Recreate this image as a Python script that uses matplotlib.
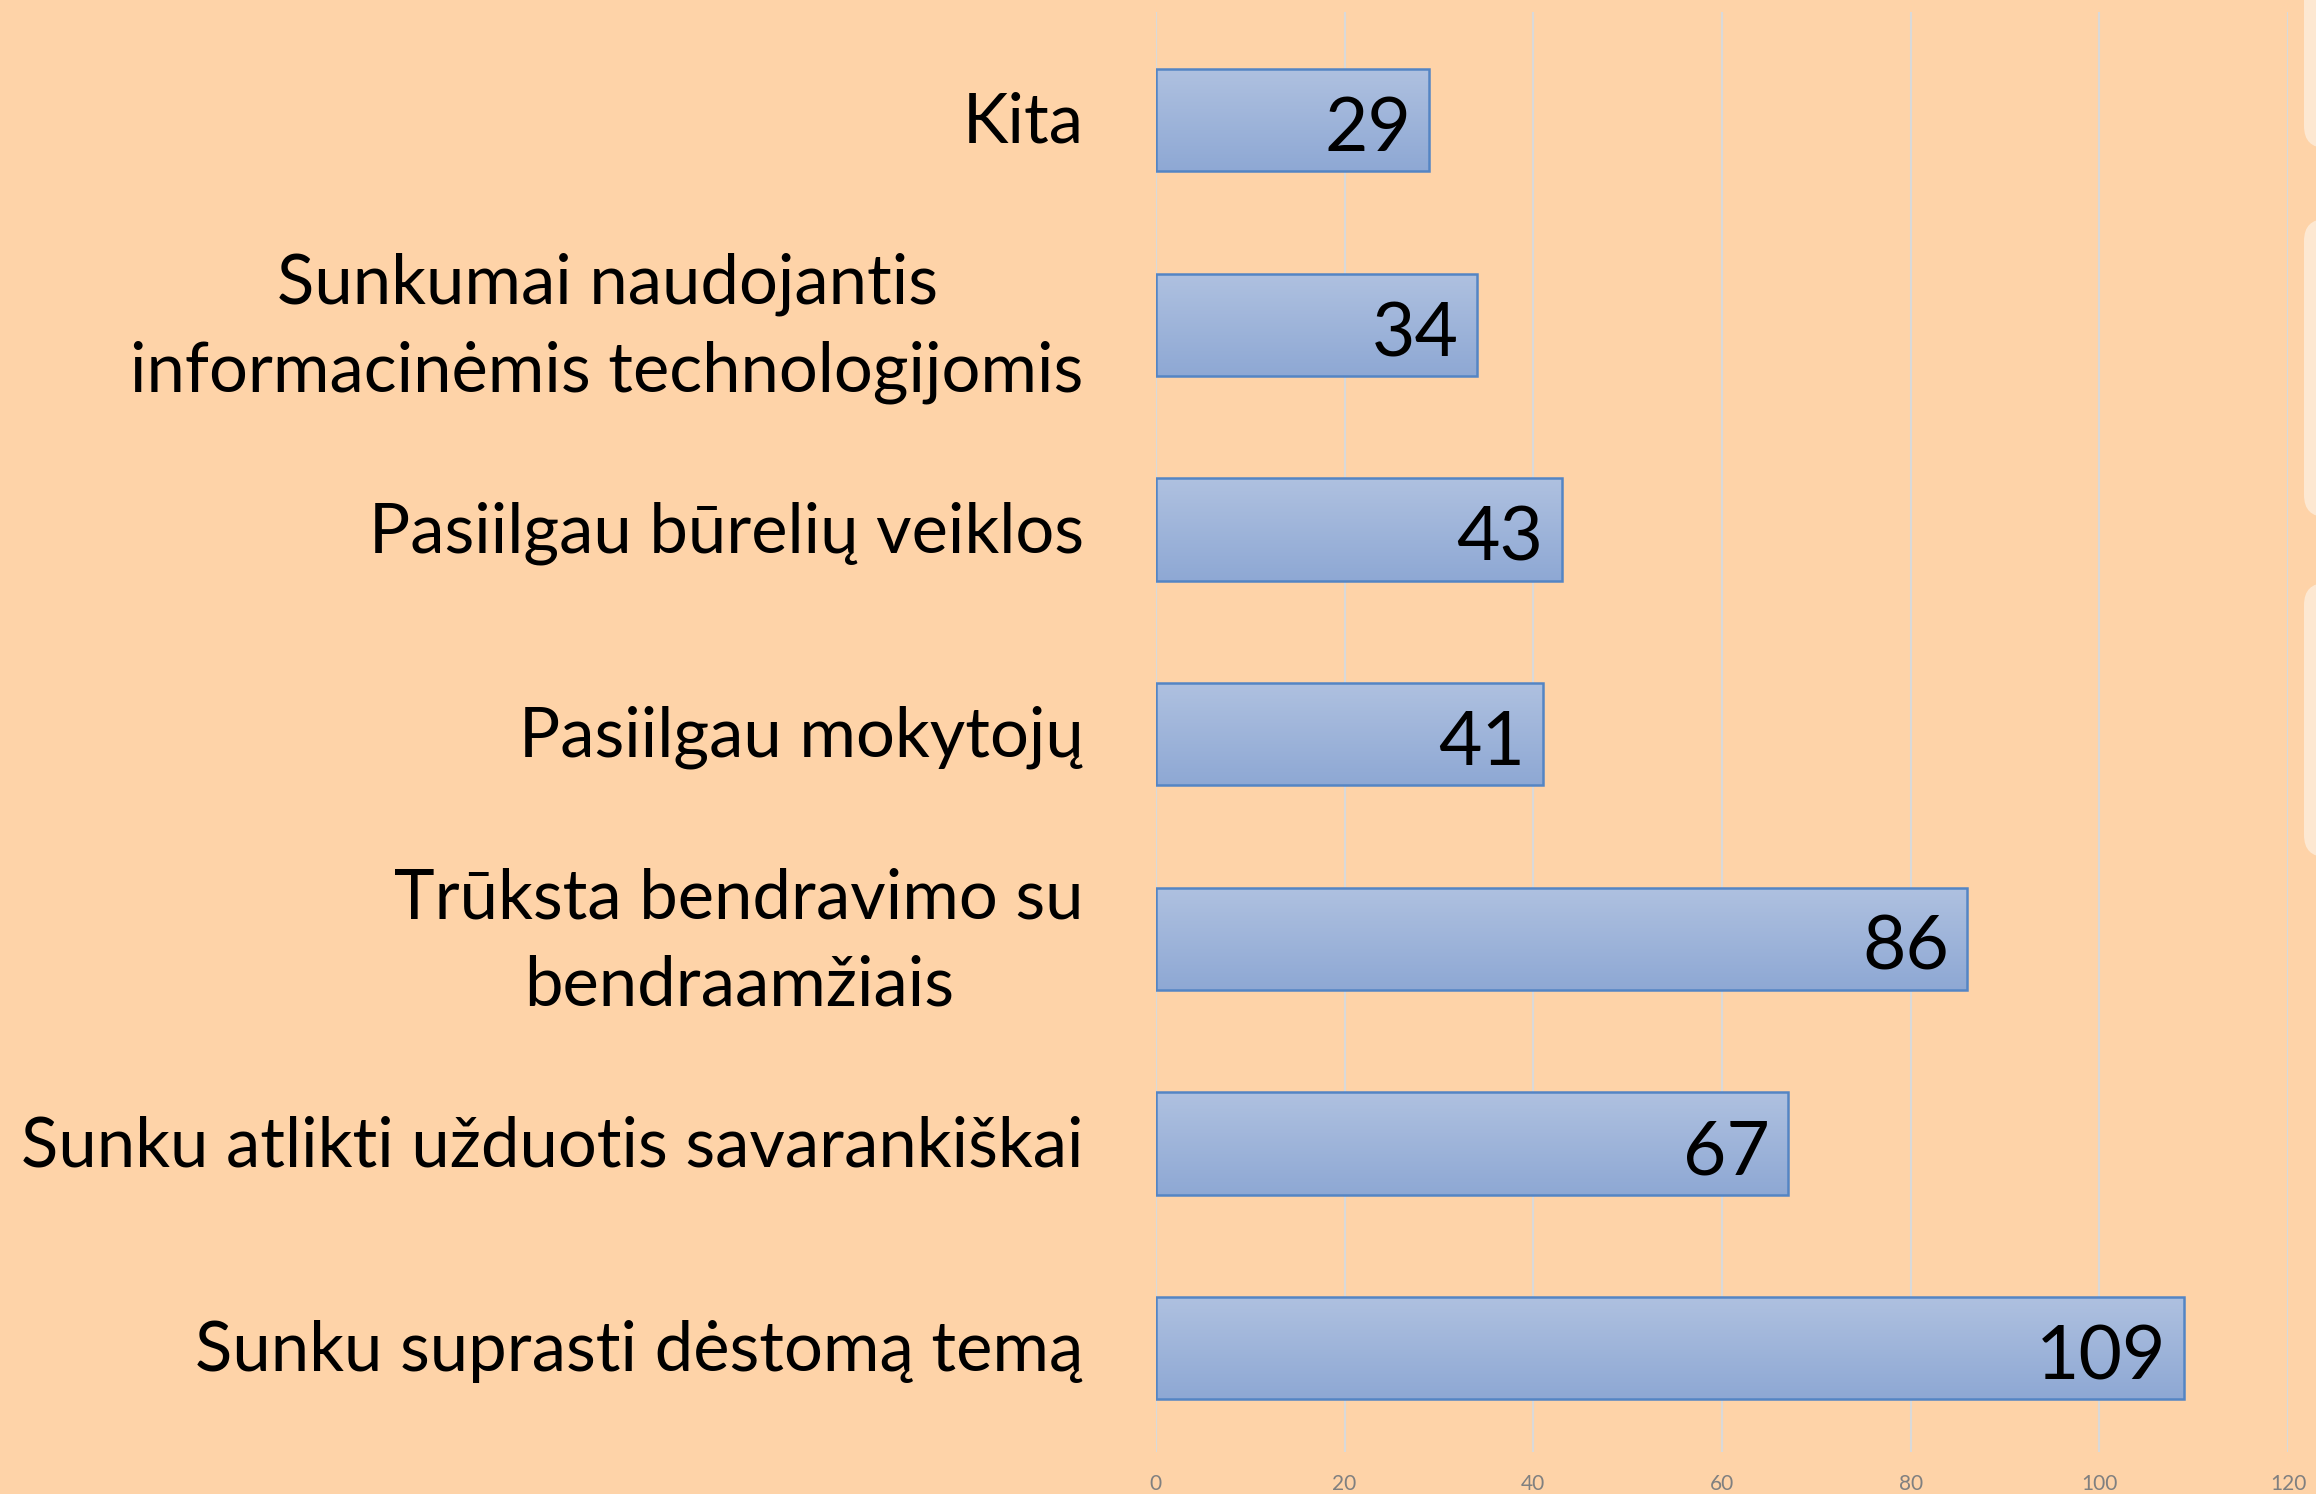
import numpy as np
import matplotlib
matplotlib.use("Agg")
from matplotlib import pyplot as plt
from matplotlib.patches import FancyBboxPatch
from matplotlib.transforms import IdentityTransform, ScaledTranslation, blended_transform_factory
from matplotlib.colors import to_rgb

# duomenys
kategorijos = [
    "Kita",
    "Sunkumai naudojantis\ninformacinėmis technologijomis",
    "Pasiilgau būrelių veiklos",
    "Pasiilgau mokytojų",
    "Trūksta bendravimo su\nbendraamžiais",
    "Sunku atlikti užduotis savarankiškai",
    "Sunku suprasti dėstomą temą",
]
reiksmes = [29, 34, 43, 41, 86, 67, 109]
x_ticks = [0, 20, 40, 60, 80, 100, 120]

fonas = "#FED3A8"
plt.rcParams["font.family"] = ["Lato", "DejaVu Sans"]

fig = plt.figure(figsize=(23.16, 14.94), dpi=100, facecolor=fonas)
ax = fig.add_axes([0.4991, 0.0281, 0.4888, 0.9638])
ax.set_facecolor(fonas)

# šviesūs skydeliai dešinėje
for top, bottom in [(-40, 148), (219, 517), (583, 857)]:
    p = FancyBboxPatch((2304, 1494 - bottom), 60, bottom - top,
                       boxstyle="round,pad=0,rounding_size=22",
                       transform=IdentityTransform(), facecolor="#FDE8D2",
                       edgecolor="none", zorder=0)
    fig.patches.append(p)

y = np.arange(len(kategorijos))
bars = ax.barh(y, reiksmes, height=0.5, facecolor="none",
               edgecolor="#5485C4", linewidth=1.8, zorder=3)

# gradientas stulpeliams
c_top = np.array(to_rgb("#AFC1E0"))
c_bot = np.array(to_rgb("#8EA8D4"))
t = np.linspace(0, 1, 256)[:, None]
grad = (c_top * (1 - t) + c_bot * t)[:, None, :]
for b in bars:
    x0, y0, w, h = b.get_x(), b.get_y(), b.get_width(), b.get_height()
    im = ax.imshow(grad, extent=(x0, x0 + w, y0 + h, y0), origin="upper",
                   aspect="auto", zorder=2, interpolation="bilinear")
    im.set_clip_path(b)

for yi, v in zip(y, reiksmes):
    ax.annotate(str(v), xy=(v, yi), xytext=(-13, -7), textcoords="offset points",
                ha="right", va="center", fontsize=54, color="black", zorder=4)

# kategorijų pavadinimai
base = blended_transform_factory(ax.transAxes, ax.transData)
for yi, name in zip(y, kategorijos):
    dy = 10.5 if "\n" in name else 2
    tr = base + ScaledTranslation(-52 / 72, dy / 72, fig.dpi_scale_trans)
    ax.text(0, yi, name, transform=tr, ha="right", va="center_baseline",
            multialignment="center", linespacing=1.47, fontsize=49.5,
            color="black", clip_on=False)

ax.set_xlim(0, 120)
ax.set_ylim(6.508, -0.528)
ax.set_xticks(x_ticks)
ax.set_xticklabels([str(v) for v in x_ticks], color="#808080", fontsize=15)
ax.set_yticks(y)
ax.set_yticklabels([])
ax.tick_params(axis="x", length=0, pad=16)
ax.tick_params(axis="y", length=0)
ax.grid(axis="x", color="#D9D9D9", linewidth=1.5, zorder=1)
ax.grid(axis="y", visible=False)
ax.set_axisbelow(True)
for s in ax.spines.values():
    s.set_visible(False)

fig.savefig("out.png", dpi=100, facecolor=fonas)
